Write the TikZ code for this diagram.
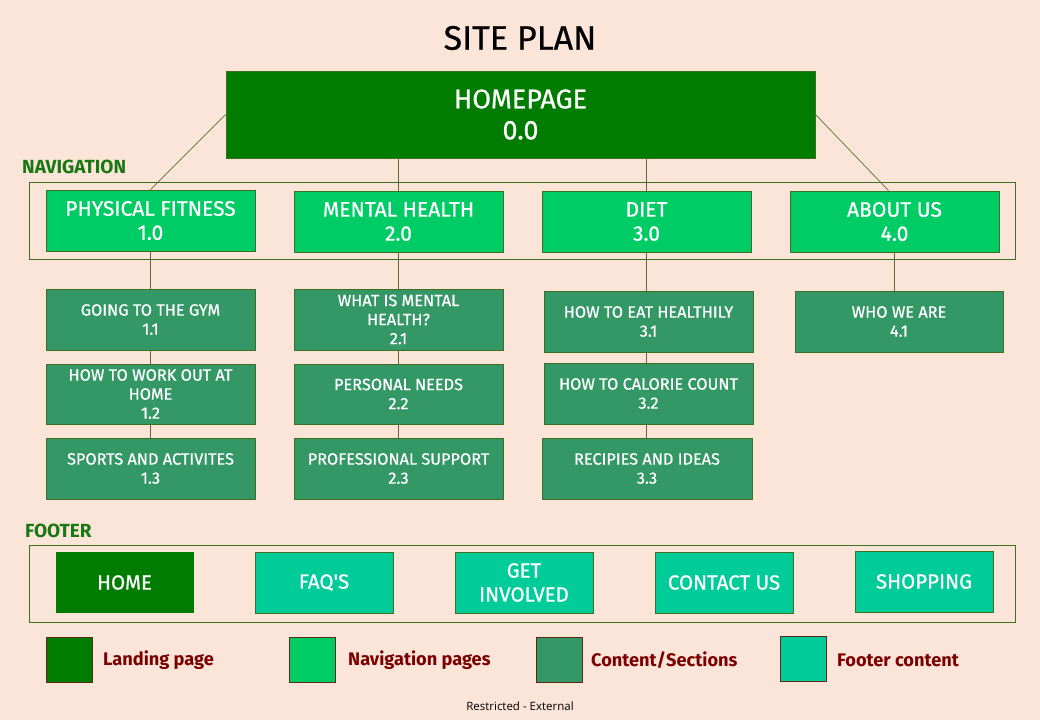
\documentclass[tikz,border=0pt]{standalone}
\usepackage{fontspec}
\setmainfont{Fira Sans}
\newfontfamily\medfont{Fira Sans}[UprightFeatures={FakeBold=0.7}]
\newfontfamily\smallfont{Open Sans}
\definecolor{bg}{RGB}{250,229,216}
\definecolor{landing}{RGB}{0,125,0}
\definecolor{navfill}{RGB}{0,204,102}
\definecolor{content}{RGB}{51,152,102}
\definecolor{footfill}{RGB}{0,204,153}
\definecolor{edge}{RGB}{62,110,30}
\definecolor{link}{RGB}{95,110,45}
\definecolor{headgreen}{RGB}{25,120,20}
\definecolor{legendtxt}{RGB}{125,0,0}
\definecolor{legendedge}{RGB}{90,40,25}
\tikzset{
  box/.style={draw=edge, line width=0.9pt, inner sep=0pt, align=center, text=white},
  landingbox/.style={box, fill=landing, minimum width=589pt, minimum height=87pt,
    font=\medfont\fontsize{27}{31}\selectfont},
  navbox/.style={box, fill=navfill, minimum width=209pt, minimum height=61pt,
    font=\medfont\fontsize{21}{24}\selectfont},
  contentbox/.style={box, fill=content, minimum width=209pt, minimum height=61pt,
    font=\medfont\fontsize{16.3}{19}\selectfont},
  footbox/.style={box, fill=footfill, minimum width=138pt, minimum height=61pt,
    font=\medfont\fontsize{20.5}{24}\selectfont},
  frame/.style={draw=edge, line width=0.9pt},
  link/.style={draw=link, line width=0.7pt},
  heading/.style={font=\bfseries\fontsize{19}{19}\selectfont, text=headgreen, anchor=west, inner sep=0pt},
  legendbox/.style={draw=legendedge, line width=0.9pt, minimum width=46pt, minimum height=45pt, inner sep=0pt},
  legendtext/.style={font=\bfseries\fontsize{18.2}{18}\selectfont, text=legendtxt, anchor=west, inner sep=0pt}
}
\begin{document}
\begin{tikzpicture}[x=1pt, y=-1pt]
  % page
  \fill[bg] (0,0) rectangle (1040,720);
  \useasboundingbox (0,0) rectangle (1040,720);

  % title
  \node[font=\medfont\fontsize{34}{34}\selectfont] (title) at (520,38) {SITE PLAN};

  % group frames
  \draw[frame] (29,182) rectangle (1015,259);
  \draw[frame] (29,545) rectangle (1015,622);
  \node[heading] (navlabel) at (22,167) {NAVIGATION};
  \node[heading] (footlabel) at (25,531) {FOOTER};

  % landing page
  \node[landingbox] (home) at (520.5,114.5) {HOMEPAGE\\0.0};

  % navigation pages
  \node[navbox] (pf) at (150.5,220.5) {PHYSICAL FITNESS\\1.0};
  \node[navbox] (mh) at (398.5,221.5) {MENTAL HEALTH\\2.0};
  \node[navbox] (diet) at (646.5,221.5) {DIET\\3.0};
  \node[navbox] (about) at (894.5,221.5) {ABOUT US\\4.0};

  % content sections
  \node[contentbox] (c11) at (150.5,319.5) {GOING TO THE GYM\\1.1};
  \node[contentbox, minimum height=60pt] (c12) at (150.5,394) {HOW TO WORK OUT AT\\HOME\\1.2};
  \node[contentbox] (c13) at (150.5,468.5) {SPORTS AND ACTIVITES\\1.3};
  \node[contentbox] (c21) at (398.5,319.5) {WHAT IS MENTAL\\HEALTH?\\2.1};
  \node[contentbox, minimum height=60pt] (c22) at (398.5,394) {PERSONAL NEEDS\\2.2};
  \node[contentbox] (c23) at (398.5,468.5) {PROFESSIONAL SUPPORT\\2.3};
  \node[contentbox] (c31) at (648.5,321.5) {HOW TO EAT HEALTHILY\\3.1};
  \node[contentbox] (c32) at (648.5,393.5) {HOW TO CALORIE COUNT\\3.2};
  \node[contentbox, minimum width=210pt] (c33) at (647,468.5) {RECIPIES AND IDEAS\\3.3};
  \node[contentbox, minimum width=208pt] (c41) at (899,321.5) {WHO WE ARE\\4.1};

  % footer links
  \node[footbox, fill=landing, draw=none] (fhome) at (124.5,582.5) {HOME};
  \node[footbox] (ffaq) at (324,582.5) {FAQ'S};
  \node[footbox] (finv) at (524,582.5) {GET\\INVOLVED};
  \node[footbox] (fcontact) at (724,582.5) {CONTACT US};
  \node[footbox] (fshop) at (924,581.5) {SHOPPING};

  % connectors
  \draw[link] (home.west) -- (pf.north);
  \draw[link] (home.east) -- ([xshift=-6pt]about.north);
  \draw[link] (mh.north |- home.south) -- (mh.north);
  \draw[link] (diet.north |- home.south) -- (diet.north);
  \draw[link] (pf.south) -- (c11.north);
  \draw[link] (c11.south) -- (c12.north);
  \draw[link] (c12.south) -- (c13.north);
  \draw[link] (mh.south) -- (c21.north);
  \draw[link] (c21.south) -- (c22.north);
  \draw[link] (c22.south) -- (c23.north);
  \draw[link] (diet.south) -- (diet.south |- c31.north);
  \draw[link] (c31.south -| diet.south) -- (c32.north -| diet.south);
  \draw[link] (c32.south -| diet.south) -- (c33.north -| diet.south);
  \draw[link] (about.south) -- (about.south |- c41.north);

  % legend
  \node[legendbox, fill=landing] (lg1) at (69.5,659.5) {};
  \node[legendtext] (lt1) at (103,660) {Landing page};
  \node[legendbox, fill=navfill] (lg2) at (312.5,659.5) {};
  \node[legendtext] (lt2) at (348,660) {Navigation pages};
  \node[legendbox, fill=content] (lg3) at (559,659.5) {};
  \node[legendtext] (lt3) at (591,660) {Content/Sections};
  \node[legendbox, fill=footfill] (lg4) at (803,659) {};
  \node[legendtext] (lt4) at (837,660) {Footer content};

  % classification mark
  \node[font=\smallfont\fontsize{11.5}{12}\selectfont] (mark) at (520,706) {Restricted - External};
\end{tikzpicture}
\end{document}
